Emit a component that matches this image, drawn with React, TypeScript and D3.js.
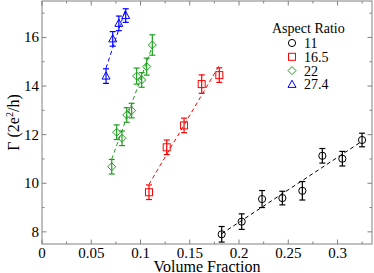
import * as d3 from 'd3';

// volume fraction / conductance, one array per aspect ratio
const ar11X = [0.1824, 0.2027, 0.2234, 0.244, 0.2643, 0.2846, 0.3049, 0.3249];
const ar11Y = [7.9, 8.42, 9.35, 9.39, 9.69, 11.13, 11.01, 11.78];
const ar11Err = [0.32, 0.32, 0.35, 0.28, 0.38, 0.3, 0.3, 0.28];

const ar165X = [0.1086, 0.1266, 0.1442, 0.1621, 0.18];
const ar165Y = [9.63, 11.48, 12.38, 14.08, 14.45];
const ar165Err = [0.3, 0.3, 0.3, 0.38, 0.3];

const ar22X = [0.0708, 0.0758, 0.0812, 0.086, 0.091, 0.0961, 0.1012, 0.1063, 0.112];
const ar22Y = [10.68, 12.1, 11.85, 12.81, 12.99, 14.41, 14.25, 14.8, 15.69];
const ar22Err = [0.3, 0.3, 0.3, 0.3, 0.3, 0.33, 0.3, 0.35, 0.42];

const ar274X = [0.065, 0.0718, 0.078, 0.085];
const ar274Y = [14.41, 15.94, 16.58, 16.9];
const ar274Err = [0.3, 0.3, 0.3, 0.28];

const legendLabels = ['11', '16.5', '22', '27.4'];
const xTicks = [0, 0.05, 0.1, 0.15, 0.2, 0.25, 0.3];
const yTicks = [8, 10, 12, 14, 16];

type Shape = 'circle' | 'square' | 'diamond' | 'triangle';

const seriesList: { x: number[]; y: number[]; err: number[]; color: string; shape: Shape }[] = [
  { x: ar11X, y: ar11Y, err: ar11Err, color: '#000000', shape: 'circle' },
  { x: ar165X, y: ar165Y, err: ar165Err, color: '#ff0000', shape: 'square' },
  { x: ar22X, y: ar22Y, err: ar22Err, color: '#1e9e1e', shape: 'diamond' },
  { x: ar274X, y: ar274Y, err: ar274Err, color: '#0000ff', shape: 'triangle' },
];

const font = '"Liberation Serif", "DejaVu Serif", serif';

function marker(shape: Shape, cx: number, cy: number, color: string, key: string) {
  if (shape === 'circle') return <circle key={key} cx={cx} cy={cy} r={3.6} fill="none" stroke={color} strokeWidth={1} />;
  if (shape === 'square') return <rect key={key} x={cx - 3.5} y={cy - 3.5} width={7} height={7} fill="none" stroke={color} strokeWidth={1} />;
  if (shape === 'diamond') return <path key={key} d={`M${cx},${cy - 4}L${cx + 4},${cy}L${cx},${cy + 4}L${cx - 4},${cy}Z`} fill="none" stroke={color} strokeWidth={1} />;
  return <path key={key} d={`M${cx},${cy - 4.2}L${cx + 4},${cy + 3}L${cx - 4},${cy + 3}Z`} fill="none" stroke={color} strokeWidth={1} />;
}

function fit(xs: number[], ys: number[]) {
  const mx = d3.mean(xs) as number;
  const my = d3.mean(ys) as number;
  const sxy = d3.sum(xs, (v, i) => (v - mx) * (ys[i] - my));
  const sxx = d3.sum(xs, v => (v - mx) * (v - mx));
  const b = sxy / sxx;
  return (v: number) => my + b * (v - mx);
}

export default function App() {
  const width = 374;
  const height = 273;
  const margin = { top: 1, right: 2, bottom: 29, left: 42 };
  const x = d3.scaleLinear().domain([0, 0.335]).range([margin.left, width - margin.right]);
  const y = d3.scaleLinear().domain([7.5, 17.5]).range([height - margin.bottom, margin.top]);
  const [x0, x1] = x.range();
  const [y0, y1] = y.range();
  const axisColor = '#808080';

  const xMinor = d3.range(0, 0.335, 0.025);
  const yMinor = d3.range(8, 17.6, 1);

  return (
    <svg width={width} height={height} style={{ position: 'absolute', left: 0, top: 0, background: '#fff' }}>
      {/* fit lines */}
      {seriesList.map((s, i) => {
        const f = fit(s.x, s.y);
        const xa = d3.min(s.x) as number;
        const xb = d3.max(s.x) as number;
        return (
          <line key={`fit${i}`} x1={x(xa)} y1={y(f(xa))} x2={x(xb)} y2={y(f(xb))}
            stroke={s.color} strokeWidth={1} strokeDasharray="4,3" />
        );
      })}
      {/* error bars and markers */}
      {seriesList.map((s, i) => (
        <g key={`s${i}`}>
          {s.x.map((v, j) => {
            const cx = x(v);
            const top = y(s.y[j] + s.err[j]);
            const bot = y(s.y[j] - s.err[j]);
            return (
              <g key={j} stroke={s.color} strokeWidth={1.2}>
                <line x1={cx} x2={cx} y1={top} y2={bot} />
                <line x1={cx - 3} x2={cx + 3} y1={top} y2={top} />
                <line x1={cx - 3} x2={cx + 3} y1={bot} y2={bot} />
              </g>
            );
          })}
          {s.x.map((v, j) => marker(s.shape, x(v), y(s.y[j]), s.color, `m${j}`))}
        </g>
      ))}
      {/* frame */}
      <rect x={x0} y={y1} width={x1 - x0} height={y0 - y1} fill="none" stroke={axisColor} strokeWidth={1} />
      {/* x ticks */}
      {xMinor.map((t, i) => {
        const major = i % 2 === 0;
        const len = major ? 4.5 : 2.5;
        return (
          <g key={`xt${i}`} stroke={axisColor}>
            <line x1={x(t)} x2={x(t)} y1={y0} y2={y0 - len} />
            <line x1={x(t)} x2={x(t)} y1={y1} y2={y1 + len} />
          </g>
        );
      })}
      {yMinor.map((t, i) => {
        const major = i % 2 === 0;
        const len = major ? 4.5 : 2.5;
        return (
          <g key={`yt${i}`} stroke={axisColor}>
            <line x1={x0} x2={x0 + len} y1={y(t)} y2={y(t)} />
            <line x1={x1} x2={x1 - len} y1={y(t)} y2={y(t)} />
          </g>
        );
      })}
      {xTicks.map(t => (
        <text key={`xl${t}`} x={x(t)} y={y0 + 13.5} textAnchor="middle" fontFamily={font} fontSize={15}>{t}</text>
      ))}
      {yTicks.map(t => (
        <text key={`yl${t}`} x={x0 - 3} y={y(t) + 5} textAnchor="end" fontFamily={font} fontSize={15}>{t}</text>
      ))}
      <text x={(x0 + x1) / 2} y={height - 1.5} textAnchor="middle" fontFamily={font} fontSize={16}>Volume Fraction</text>
      <text transform={`translate(19,${(y0 + y1) / 2}) rotate(-90)`} textAnchor="middle" fontFamily={font} fontSize={16}>
        Γ (2e<tspan dy={-6} fontSize={10}>2</tspan><tspan dy={6}>/h)</tspan>
      </text>
      {/* legend */}
      <text x={272} y={33} fontFamily={font} fontSize={14}>Aspect Ratio</text>
      {seriesList.map((s, i) => (
        <g key={`lg${i}`}>
          {marker(s.shape, 292, 43 + i * 13.8, s.color, `lm${i}`)}
          <text x={304} y={48 + i * 13.8} fontFamily={font} fontSize={14}>{legendLabels[i]}</text>
        </g>
      ))}
    </svg>
  );
}
